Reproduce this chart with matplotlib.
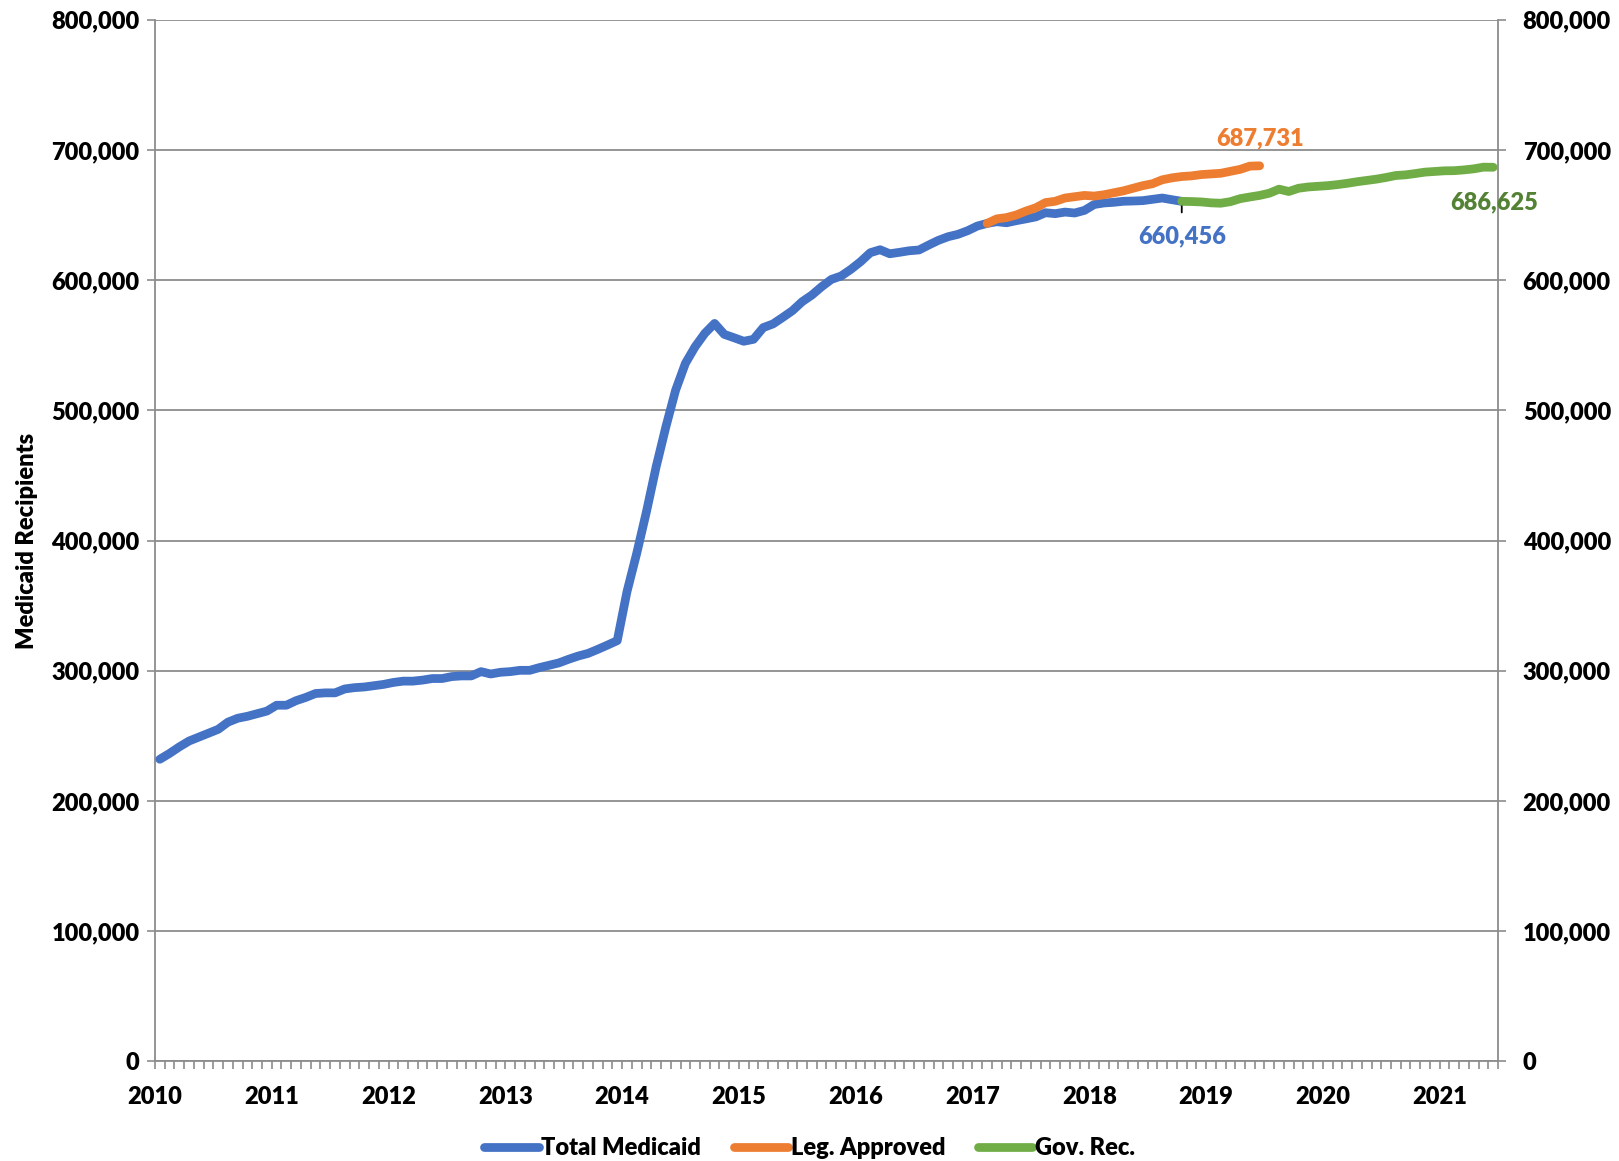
import numpy as np
import matplotlib
matplotlib.use("Agg")
import matplotlib.pyplot as plt
from matplotlib.ticker import FuncFormatter, MultipleLocator

plt.rcParams['font.family'] = ['Lato', 'DejaVu Sans']
wt = 'heavy'
plt.rcParams['font.weight'] = wt
plt.rcParams['axes.labelweight'] = wt

# monthly recipients, Jan 2010 onward
years = [str(y) for y in range(2010, 2022)]
n_months = 138  # Jan 2010 .. Jun 2021

total_medicaid = [
    232000, 236500, 241500, 246000, 249000, 252000, 255000, 260500, 263500, 265000, 267000, 269000,
    273500, 273500, 277000, 279500, 282500, 283000, 283000, 286000, 287000, 287500, 288500, 289500,
    291000, 292000, 292000, 292800, 294000, 294000, 295500, 296000, 296000, 299300, 297500, 298800,
    299300, 300300, 300300, 302400, 304200, 306000, 308800, 311300, 313300, 316400, 319700, 323100,
    360700, 390100, 422100, 456700, 487400, 515500, 536000, 548800, 559100, 566700, 558300, 555700,
    553000, 554500, 563500, 566300, 571300, 576500, 583400, 588500, 594900, 600500, 603100, 608200,
    614100, 621000, 623300, 620200, 621300, 622500, 623100, 626900, 630500, 633300, 635100, 637900,
    641500, 643500, 644800, 644000, 645600, 647000, 648500, 651700, 651000, 652200, 651500, 653500,
    658000, 659200, 659700, 660500, 660700, 661000, 662000, 663000, 661700, 660456,
]
leg_start = 85  # Feb 2017
leg_approved = [
    643500, 647000, 648000, 650000, 653000, 655500, 659500, 660500, 663000, 664000, 665000,
    664500, 665500, 667000, 668500, 670500, 672500, 674000, 677000, 678500, 679500, 680000,
    681000, 681500, 682000, 683500, 685000, 687500, 687731,
]
gov_start = 105  # Oct 2018
gov_rec = [
    660456, 660300, 660000, 659300, 659000, 660200, 662500, 663800, 665000, 666700, 669800,
    668000, 670500, 671500, 672000, 672500, 673300, 674300, 675500, 676500, 677500, 678800,
    680300, 680800, 681800, 682900, 683400, 683900, 684000, 684600, 685400, 686700, 686625,
]

blue = '#4472C4'
orange = '#ED7D31'
green = '#70AD47'
grid_gray = '#8C8C8C'
fs = 17

fig = plt.figure(figsize=(16.19, 11.61), dpi=100)
ax = fig.add_axes([0.0957, 0.0858, 0.8296, 0.8973])

x_total = np.arange(len(total_medicaid)) + 0.5
x_leg = np.arange(len(leg_approved)) + leg_start + 0.5
x_gov = np.arange(len(gov_rec)) + gov_start + 0.5

line_kw = dict(lw=6.3, solid_capstyle='round', solid_joinstyle='round')
ax.plot(x_total, total_medicaid, color=blue, label='Total Medicaid', zorder=3, **line_kw)
ax.plot(x_leg, leg_approved, color=orange, label='Leg. Approved', zorder=4, **line_kw)
ax.plot(x_gov, gov_rec, color=green, label='Gov. Rec.', zorder=4, **line_kw)

# end-of-series labels
ax.annotate('', xy=(x_total[-1], total_medicaid[-1]), xytext=(0, -8),
            textcoords='offset points',
            arrowprops=dict(arrowstyle='-', color='black', lw=1.3, shrinkA=0, shrinkB=0))
ax.annotate(f'{total_medicaid[-1]:,}', xy=(x_total[-1], total_medicaid[-1]), xytext=(0, -25),
            textcoords='offset points', ha='center', va='center', color=blue,
            fontsize=fs, fontweight=wt)
ax.annotate(f'{leg_approved[-1]:,}', xy=(x_leg[-1], leg_approved[-1]), xytext=(0, 20),
            textcoords='offset points', ha='center', va='center', color=orange,
            fontsize=fs, fontweight=wt)
ax.annotate(f'{gov_rec[-1]:,}', xy=(x_gov[-1], gov_rec[-1]), xytext=(1, -25),
            textcoords='offset points', ha='center', va='center', color='#548235',
            fontsize=fs, fontweight=wt)

ax.set_xlim(0, n_months)
ax.set_ylim(0, 800000)
ax.yaxis.set_major_locator(MultipleLocator(100000))
ax.yaxis.set_major_formatter(FuncFormatter(lambda v, p: f'{int(v):,}'))
ax.grid(axis='y', color=grid_gray, lw=1.3, zorder=0)
ax.set_axisbelow(True)

ax.set_xticks(np.arange(0, n_months, 12))
ax.set_xticklabels(years)
ax.set_xticks(np.arange(0, n_months + 1, 1), minor=True)
ax.tick_params(axis='x', which='both', direction='out', length=6, width=1.2,
               color=grid_gray, labelsize=fs, pad=12)
ax.tick_params(axis='y', which='major', direction='out', length=6, width=1.2,
               color=grid_gray, labelsize=fs, pad=5, right=True, labelright=True)
for t in ax.yaxis.get_major_ticks():
    t.label1.set_fontweight(wt)
    t.label2.set_fontweight(wt)
    t.label2.set_x(1.007)
for t in ax.xaxis.get_major_ticks():
    t.label1.set_fontweight(wt)

for side in ['left', 'right', 'bottom']:
    ax.spines[side].set_color(grid_gray)
    ax.spines[side].set_linewidth(1.3)
ax.spines['top'].set_visible(False)

ax.set_ylabel('Medicaid Recipients', fontsize=fs, fontweight=wt, labelpad=10)

fig.legend(loc='center', bbox_to_anchor=(0.5, 0.011), ncol=3, frameon=False,
           prop={'size': fs, 'weight': wt}, handlelength=2.3,
           handletextpad=0.1, columnspacing=1.4)

fig.savefig('out.png', dpi=100)
